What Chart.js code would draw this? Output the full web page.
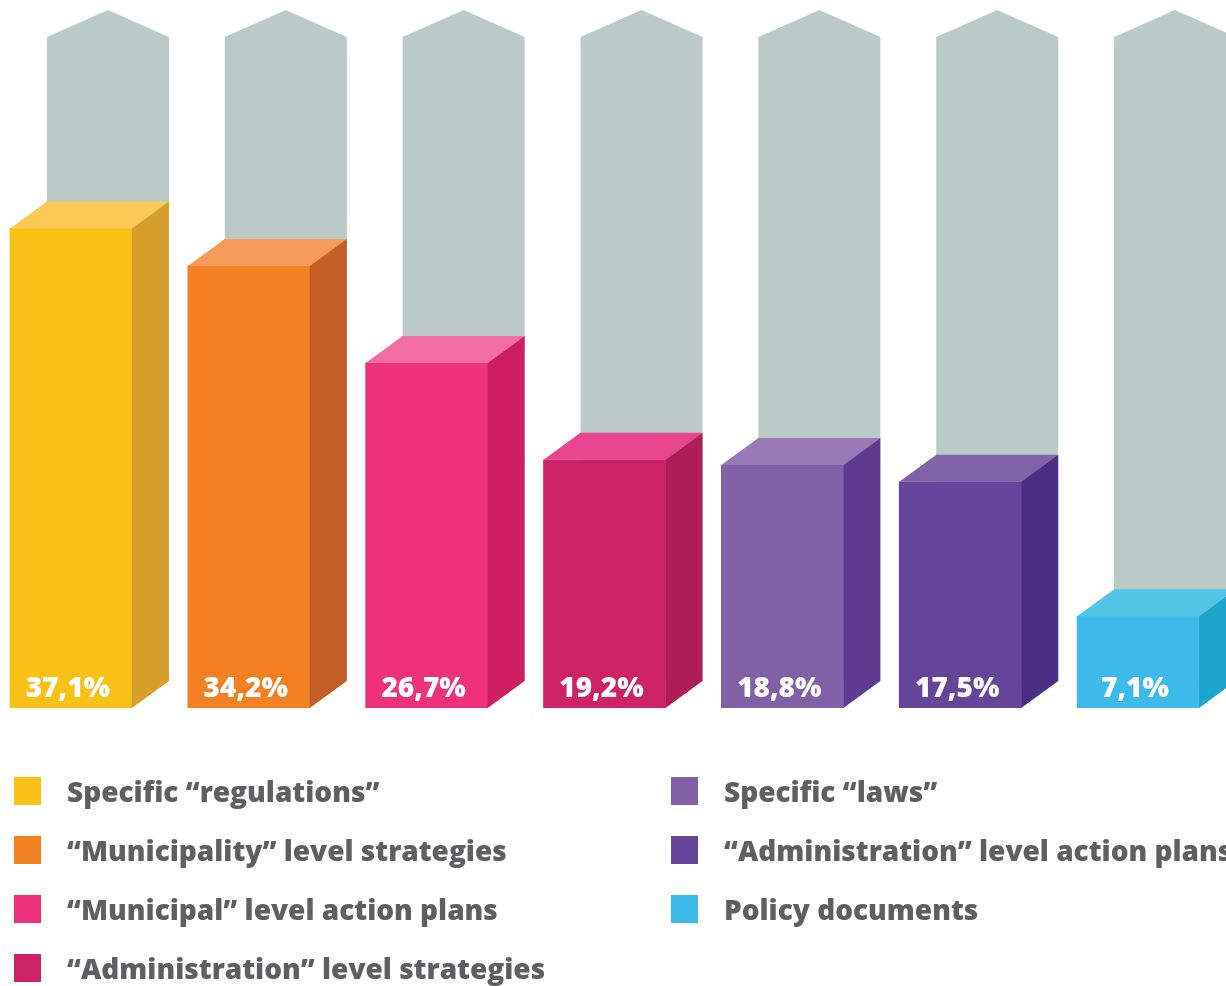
<!DOCTYPE html>
<html>
<head>
<meta charset="utf-8">
<script src="https://cdn.jsdelivr.net/npm/chart.js@4/dist/chart.umd.min.js"></script>
<style>
  html, body { margin: 0; padding: 0; background: #ffffff; overflow: hidden; }
  body { width: 1226px; height: 986px; position: relative; }
  #wrap { position: absolute; left: -18px; top: 0; width: 1245px; height: 720px; }
  #legend { position: absolute; left: 0; top: 0; width: 1226px; height: 986px; pointer-events: none; overflow: hidden; }
  .item { position: absolute; display: flex; align-items: center; height: 30px;
          font-family: "Open Sans", sans-serif; font-weight: 800; font-size: 28px; color: #5f5f61; white-space: nowrap; }
  .swatch { width: 27px; height: 28px; margin-right: 26px; flex: none; }
</style>
</head>
<body>
<div id="wrap"><canvas id="docChart"></canvas></div>
<div id="legend"></div>
<script>
const categories = [
  'Specific \u201cregulations\u201d',
  '\u201cMunicipality\u201d level strategies',
  '\u201cMunicipal\u201d level action plans',
  '\u201cAdministration\u201d level strategies',
  'Specific \u201claws\u201d',
  '\u201cAdministration\u201d level action plans',
  'Policy documents'
];
const shares = [37.1, 34.2, 26.7, 19.2, 18.8, 17.5, 7.1];

// front / top / side shades for each box
const frontColors = ['#f9c116', '#f38022', '#ee317a', '#ce2267', '#8260a7', '#66449a', '#3dbae9'];
const topColors   = ['#fdc955', '#f79b58', '#f06ea1', '#ea4690', '#9a7ab6', '#7f62a8', '#53c6e5'];
const sideColors  = ['#d59f2a', '#c45e27', '#cc1e61', '#ae1d58', '#5f3a8e', '#4b2d83', '#1ea5cb'];
const backColor = '#bacbc7';

const DEPTH_X = 37;
const DEPTH_Y = 27;

const fmt = v => v.toFixed(1).replace('.', ',') + '%';

// grey arrow columns sit behind the boxes, then the top/side faces go on top
const boxes3d = {
  id: 'boxes3d',
  beforeDatasetsDraw(chart) {
    const { ctx, chartArea } = chart;
    const bars = chart.getDatasetMeta(0).data;
    ctx.save();
    ctx.fillStyle = backColor;
    bars.forEach(bar => {
      const l = bar.x - bar.width / 2 + DEPTH_X;
      const r = bar.x + bar.width / 2 + DEPTH_X;
      const peak = chartArea.top;
      const shoulder = peak + 27;
      ctx.beginPath();
      ctx.moveTo(l, bar.base - DEPTH_Y);
      ctx.lineTo(l, shoulder);
      ctx.lineTo((l + r) / 2, peak);
      ctx.lineTo(r, shoulder);
      ctx.lineTo(r, bar.base - DEPTH_Y);
      ctx.closePath();
      ctx.fill();
    });
    ctx.restore();
  },
  afterDatasetsDraw(chart) {
    const { ctx } = chart;
    const bars = chart.getDatasetMeta(0).data;
    ctx.save();
    bars.forEach((bar, i) => {
      const l = bar.x - bar.width / 2;
      const r = bar.x + bar.width / 2;
      const t = bar.y;
      const b = bar.base;

      ctx.fillStyle = topColors[i];
      ctx.beginPath();
      ctx.moveTo(l, t);
      ctx.lineTo(l + DEPTH_X, t - DEPTH_Y);
      ctx.lineTo(r + DEPTH_X, t - DEPTH_Y);
      ctx.lineTo(r, t);
      ctx.closePath();
      ctx.fill();

      ctx.fillStyle = sideColors[i];
      ctx.beginPath();
      ctx.moveTo(r, t);
      ctx.lineTo(r + DEPTH_X, t - DEPTH_Y);
      ctx.lineTo(r + DEPTH_X, b - DEPTH_Y);
      ctx.lineTo(r, b);
      ctx.closePath();
      ctx.fill();

      ctx.fillStyle = '#ffffff';
      ctx.font = '800 28px "Open Sans", sans-serif';
      ctx.textAlign = 'center';
      ctx.textBaseline = 'alphabetic';
      ctx.fillText(fmt(shares[i]), bar.x - 3, b - 11);
    });
    ctx.restore();
  }
};

new Chart(document.getElementById('docChart'), {
  type: 'bar',
  data: {
    labels: categories,
    datasets: [{
      data: shares,
      backgroundColor: frontColors,
      borderWidth: 0,
      barThickness: 122
    }]
  },
  options: {
    responsive: true,
    maintainAspectRatio: false,
    animation: false,
    layout: { padding: { top: 10, bottom: 12, left: 0, right: 0 } },
    plugins: {
      legend: { display: false },
      tooltip: { enabled: false }
    },
    scales: {
      x: { display: false },
      y: { display: false, min: 0, max: 54 }
    }
  },
  plugins: [boxes3d]
});

// two-column key under the chart
const legend = document.getElementById('legend');
categories.forEach((name, i) => {
  const col = i < 4 ? 0 : 1;
  const row = i < 4 ? i : i - 4;
  const item = document.createElement('div');
  item.className = 'item';
  item.style.left = (col === 0 ? 14 : 671) + 'px';
  item.style.top = (776 + row * 59) + 'px';
  const sw = document.createElement('span');
  sw.className = 'swatch';
  sw.style.background = frontColors[i];
  item.appendChild(sw);
  item.appendChild(document.createTextNode(name));
  legend.appendChild(item);
});
</script>
</body>
</html>
